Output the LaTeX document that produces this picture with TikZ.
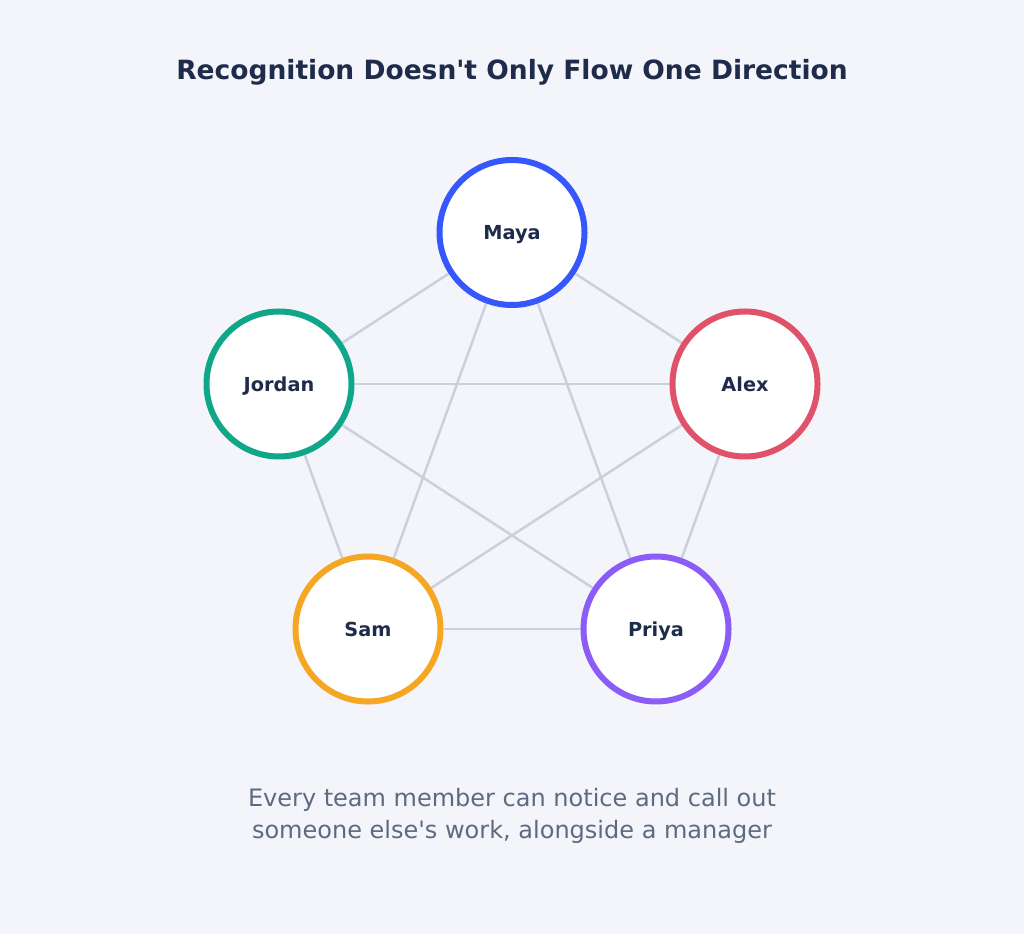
\documentclass[tikz,border=0pt]{standalone}
\usepackage{fontspec}
\setmainfont{DejaVu Sans}
\usetikzlibrary{positioning,backgrounds}

\definecolor{bgcol}{HTML}{F3F5FA}
\definecolor{ink}{HTML}{1E2B4A}
\definecolor{subink}{HTML}{5E6A80}
\definecolor{linkcol}{HTML}{CBD0DC}
\definecolor{mayacol}{HTML}{3557FB}
\definecolor{jordancol}{HTML}{10A68A}
\definecolor{alexcol}{HTML}{E0526A}
\definecolor{samcol}{HTML}{F5A623}
\definecolor{priyacol}{HTML}{8B5CF6}

\pgfdeclarelayer{back}
\pgfsetlayers{back,background,main}

\tikzset{
  member/.style={circle, draw=#1, line width=6pt, fill=white, minimum size=145pt,
    inner sep=0pt, text height=17pt, text depth=2.9pt,
    font=\fontsize{19.3}{22}\selectfont\bfseries, text=ink},
  link/.style={draw=linkcol, line width=2.5pt}
}

\begin{document}
\begin{tikzpicture}[x=1pt,y=1pt]

\begin{pgfonlayer}{back}
\fill[bgcol] (0,0) rectangle (1024,934);
\end{pgfonlayer}
\useasboundingbox (0,0) rectangle (1024,934);

\node[font=\fontsize{26.5}{30}\selectfont\bfseries, text=ink] (title) at (512,862)
  {Recognition Doesn\textquotesingle t Only Flow One Direction};

\node[member=mayacol] (maya) at (512,701.5) {Maya};
\node[member=jordancol] (jordan) at (279,550) {Jordan};
\node[member=alexcol] (alex) at (745,550) {Alex};
\node[member=samcol] (sam) at (368,305) {Sam};
\node[member=priyacol] (priya) at (656,305) {Priya};

% every member links to every other one
\begin{scope}[on background layer]
\foreach \a/\b in {maya/jordan, maya/alex, maya/sam, maya/priya, jordan/alex,
  jordan/sam, jordan/priya, alex/sam, alex/priya, sam/priya}
  \draw[link] (\a) -- (\b);
\end{scope}

\node[font=\fontsize{24}{32}\selectfont, text=subink, align=center] (note) at (512,118)
  {Every team member can notice and call out\\someone else\textquotesingle s work, alongside a manager};

\end{tikzpicture}
\end{document}
